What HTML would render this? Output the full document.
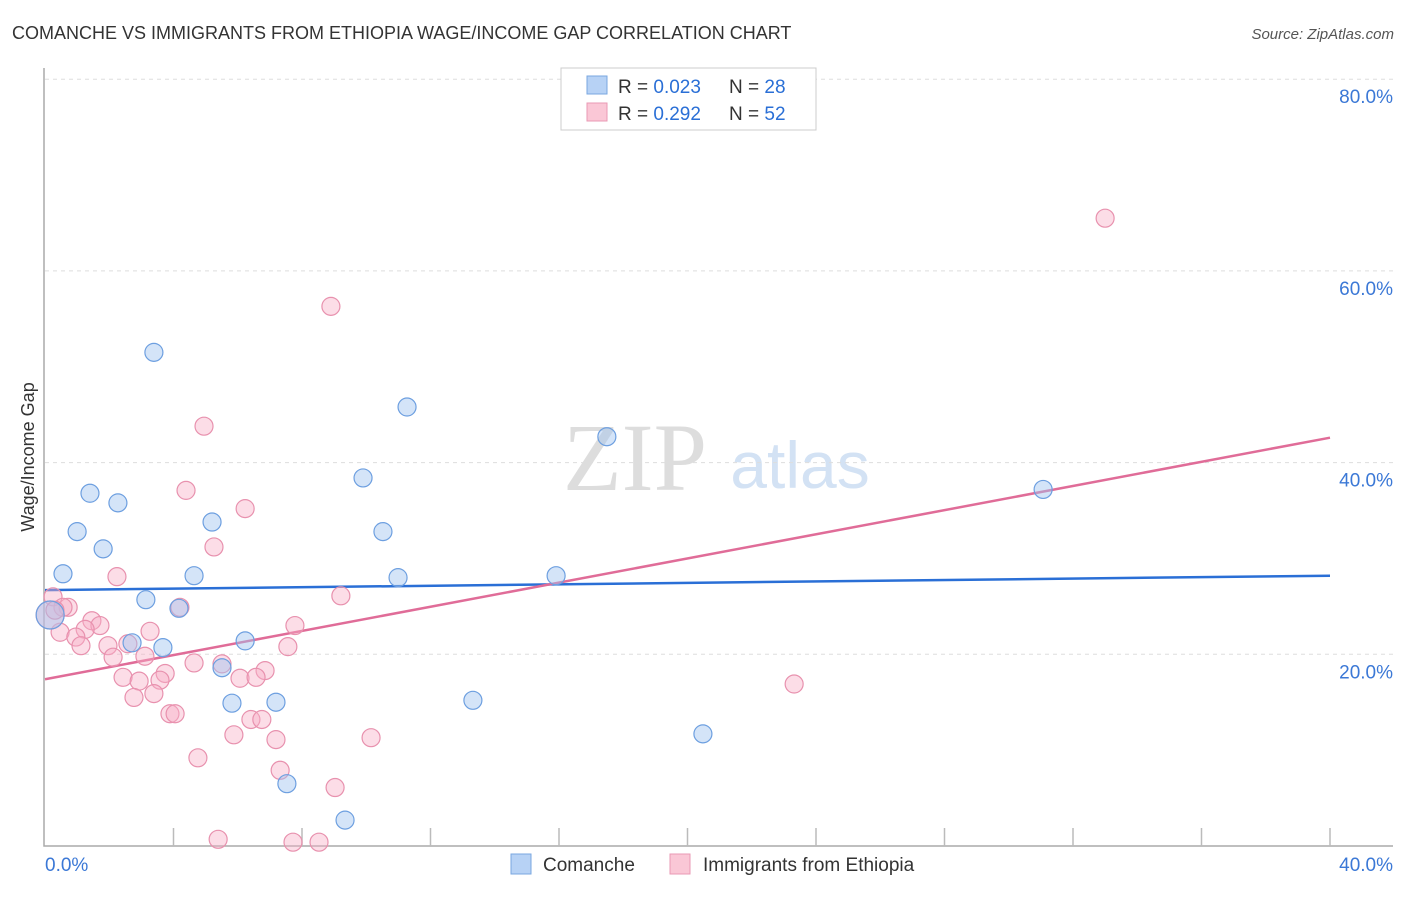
<!DOCTYPE html>
<html><head><meta charset="utf-8"><style>
body{margin:0;background:#fff;font-family:"Liberation Sans",sans-serif}
</style></head><body>
<svg width="1406" height="892" xmlns="http://www.w3.org/2000/svg" font-family="Liberation Sans, sans-serif">
<text x="12" y="39" font-size="18" fill="#333">COMANCHE VS IMMIGRANTS FROM ETHIOPIA WAGE/INCOME GAP CORRELATION CHART</text>
<text x="1394" y="39" font-size="15" fill="#555" font-style="italic" text-anchor="end">Source: ZipAtlas.com</text>
<g>
<text x="635" y="490" font-size="96" font-family="Liberation Serif, serif" fill="#ddd" text-anchor="middle">ZIP</text>
<text x="800" y="488" font-size="66" fill="#d3e2f4" text-anchor="middle">atlas</text>
</g>
<g id="grid"></g>
<g id="axes"></g>
<g id="lines"></g>
<g id="points"></g>
<g>
<rect x="561" y="68" width="255" height="62" fill="#fff" stroke="#ccc"/>
<rect x="587" y="76" width="20" height="18" fill="#b7d2f5" stroke="#7aa7e0"/>
<rect x="587" y="103" width="20" height="18" fill="#fac7d6" stroke="#e99ab4"/>
<text x="618" y="93" font-size="19" fill="#333">R = <tspan fill="#2a6fd6">0.023</tspan><tspan x="729">N = </tspan><tspan fill="#2a6fd6">28</tspan></text>
<text x="618" y="120" font-size="19" fill="#333">R = <tspan fill="#2a6fd6"> 0.292</tspan><tspan x="729">N = </tspan><tspan fill="#2a6fd6">52</tspan></text>
</g>
<g>
<rect x="511" y="854" width="20" height="20" fill="#b7d2f5" stroke="#7aa7e0"/>
<text x="543" y="871" font-size="19" fill="#333">Comanche</text>
<rect x="670" y="854" width="20" height="20" fill="#fac7d6" stroke="#e99ab4"/>
<text x="703" y="871" font-size="19" fill="#333">Immigrants from Ethiopia</text>
</g>
<text x="0" y="0" transform="translate(34,457) rotate(-90)" font-size="18" fill="#333" text-anchor="middle">Wage/Income Gap</text>
</svg>
<script>
const yTicks=[20,40,60,80];
const yTickLabels=["20.0%","40.0%","60.0%","80.0%"];
const xTickLabels=["0.0%","40.0%"];
const blueX=[3.39,11.27,17.49,1.40,2.27,9.90,31.07,1.00,5.20,10.52,1.81,0.56,4.64,10.99,15.91,3.14,4.17,2.71,3.67,6.23,5.51,5.82,7.19,13.32,20.48,7.53,9.34,0.16];
const blueY=[51.5,45.8,42.7,36.8,35.8,38.4,37.2,32.8,33.8,32.8,31.0,28.4,28.2,28.0,28.2,25.7,24.8,21.2,20.7,21.4,18.6,14.9,15.0,15.2,11.7,6.5,2.7,24.1];
const pinkX=[33.0,8.90,4.95,4.39,6.23,5.26,2.24,9.21,0.25,0.72,0.56,4.20,1.46,1.71,1.25,7.78,3.27,0.47,0.96,1.12,1.96,2.58,7.56,2.12,3.11,4.64,5.51,6.85,3.74,2.43,6.07,6.57,2.93,3.58,2.77,3.39,23.32,3.89,4.05,6.41,6.75,5.88,10.15,7.19,4.76,7.32,9.03,5.39,7.72,8.53,0.16,0.31];
const pinkY=[65.5,56.3,43.8,37.1,35.2,31.2,28.1,26.1,26.0,24.9,24.9,24.9,23.5,23.0,22.6,23.0,22.4,22.3,21.8,20.9,20.9,21.1,20.8,19.7,19.8,19.1,19.0,18.3,18.0,17.6,17.5,17.6,17.2,17.3,15.5,15.9,16.9,13.8,13.8,13.2,13.2,11.6,11.3,11.1,9.2,7.9,6.1,0.7,0.4,0.4,24.1,24.6];
const blueTrend=[26.7,28.2];
const pinkTrend=[17.4,42.6];
const NS="http://www.w3.org/2000/svg";
const sx=v=>45+v*32.125, sy=v=>846-v*9.585;
function mk(p,t,a){const e=document.createElementNS(NS,t);for(const k in a)e.setAttribute(k,a[k]);p.appendChild(e);return e;}
const grid=document.getElementById('grid'),axes=document.getElementById('axes'),lines=document.getElementById('lines'),pts=document.getElementById('points');
yTicks.forEach((t,i)=>{
 const g=mk(grid,'line',{x1:45,x2:1393,y1:sy(t),y2:sy(t),stroke:'#ddd','stroke-dasharray':'4,4'});
 
 
 const l=mk(axes,'text',{x:1393,y:sy(t)+24,'font-size':19,fill:'#3b78d6','text-anchor':'end'});
 l.textContent=yTickLabels[i];
 
 
});
const ax=mk(axes,'path',{d:'M44 68V846H1393',fill:'none',stroke:'#aaa','stroke-width':1.5});


for(let i=1;i<=10;i++){const t=mk(axes,'line',{x1:sx(i*4),x2:sx(i*4),y1:828,y2:846,stroke:'#bbb','stroke-width':1.5});
 
 }
const xl0=mk(axes,'text',{x:45,y:871,'font-size':19,fill:'#3b78d6'});xl0.textContent=xTickLabels[0];


const xl1=mk(axes,'text',{x:1393,y:871,'font-size':19,fill:'#3b78d6','text-anchor':'end'});xl1.textContent=xTickLabels[1];


function dots(X,Y,fill,stroke,name){X.forEach((x,i)=>{const big=i===X.length-1&&name==='comanche-point'||i===X.length-2&&name==='ethiopia-point';
 const c=mk(pts,'circle',{cx:sx(x),cy:sy(Y[i]),r:big?14:9,fill:fill,stroke:stroke,'stroke-width':1.2});
 
 });}
dots(pinkX,pinkY,'rgba(248,175,198,0.42)','#e891ae','ethiopia-point');
dots(blueX,blueY,'rgba(160,196,240,0.45)','#6d9fe0','comanche-point');
const bl=mk(lines,'line',{x1:sx(0),x2:sx(40),y1:sy(blueTrend[0]),y2:sy(blueTrend[1]),stroke:'#2a6fd6','stroke-width':2.5});


const pl=mk(lines,'line',{x1:sx(0),x2:sx(40),y1:sy(pinkTrend[0]),y2:sy(pinkTrend[1]),stroke:'#e06c98','stroke-width':2.5});


</script>
</body></html>
